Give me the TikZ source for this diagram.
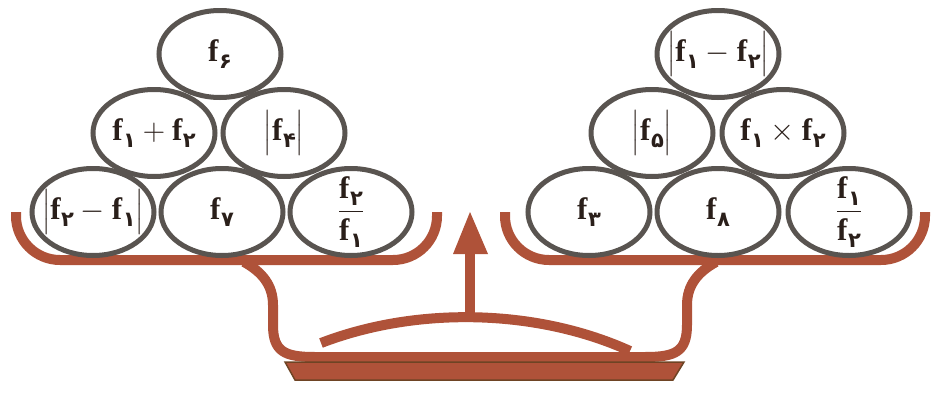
\RequirePackage{fix-cm}
\documentclass[tikz,border=0pt]{standalone}
\usepackage{amsmath}
\usepackage{fontspec}
\setmainfont{Liberation Serif}
\newfontfamily\pd[Script=Arabic]{DejaVu Sans}
\usetikzlibrary{shapes.geometric}
\definecolor{panred}{HTML}{AF5239}
\definecolor{basedark}{HTML}{6E4424}
\definecolor{ellgray}{HTML}{595450}
\definecolor{inkc}{HTML}{2A1F1A}
\newcommand\myf[1]{\textbf{f}\kern0.5pt\raisebox{-7pt}{\pd\bfseries\fontsize{21}{21}\selectfont #1}}
\newcommand\absbar[1]{\left|\rule[-14.5pt]{0pt}{44pt}#1\right|}
\tikzset{
  ell/.style={ellipse, draw=ellgray, line width=5pt, fill=white, minimum width=122pt, minimum height=87pt, inner sep=0pt},
  lab/.style={inner sep=0pt, text=inkc, font=\fontsize{31}{37}\selectfont},
  pan/.style={draw=panred, line width=10pt, rounded corners=44pt},
  stem/.style={draw=panred, line width=10pt},
}
\begin{document}
\begin{tikzpicture}[x=1pt,y=-1pt]
\useasboundingbox (0,0) rectangle (940,394);
% pans
\draw[pan] (16,212) -- (16,260) -- (437,260) -- (437,212);
\draw[pan] (505,212) -- (505,260) -- (925,260) -- (925,212);
% stems
\draw[stem] (244,262) .. controls (262,272) and (273,285) .. (273,305) -- (273,325)
  .. controls (273,352) and (285,357) .. (315,357) -- (645,357)
  .. controls (675,357) and (687,352) .. (687,325) -- (687,305)
  .. controls (687,285) and (698,272) .. (716,262);
% arc
\draw[stem] (321,343) .. controls (420,305) and (540,310) .. (630,351);
% arrow
\coordinate (arrowFoot) at (470,322);
\coordinate (arrowNeck) at (470,250);
\draw[stem] (arrowFoot) -- (arrowNeck);
\fill[panred] (470,212) -- (488,254) -- (453,254) -- cycle;
% base
\draw[fill=panred, draw=basedark, line width=1.5pt] (285,362) -- (684,362) -- (673,380) -- (295,380) -- cycle;
% left pyramid
\node[ell] (lb1) at (93,212) {};
\node[ell] (lb2) at (222,212) {};
\node[ell] (lb3) at (351,212) {};
\node[ell] (lm1) at (154,133) {};
\node[ell] (lm2) at (284,133) {};
\node[ell] (lt) at (220,54) {};
% right pyramid
\node[ell] (rb1) at (589,212) {};
\node[ell] (rb2) at (718,212) {};
\node[ell] (rb3) at (849,212) {};
\node[ell] (rm1) at (652,133) {};
\node[ell] (rm2) at (783,133) {};
\node[ell] (rt) at (718,54) {};
% labels
\node[lab] (lb1t) at (lb1) {$\absbar{\myf{۲}-\myf{۱}}$};
\node[lab] (lb2t) at (lb2) {$\myf{۷}$};
\node[lab] (lb3t) at (lb3) {$\dfrac{\myf{۲}}{\myf{۱}}$};
\node[lab] (lm1t) at (lm1) {$\myf{۱}+\myf{۲}$};
\node[lab] (lm2t) at (lm2) {$\absbar{\myf{۴}}$};
\node[lab] (ltt) at (lt) {$\myf{۶}$};
\node[lab] (rb1t) at (rb1) {$\myf{۳}$};
\node[lab] (rb2t) at (rb2) {$\myf{۸}$};
\node[lab] (rb3t) at (rb3) {$\dfrac{\myf{۱}}{\myf{۲}}$};
\node[lab] (rm1t) at (rm1) {$\absbar{\myf{۵}}$};
\node[lab] (rm2t) at (rm2) {$\myf{۱}\times\myf{۲}$};
\node[lab] (rtt) at (rt) {$\absbar{\myf{۱}-\myf{۲}}$};
\end{tikzpicture}
\end{document}
